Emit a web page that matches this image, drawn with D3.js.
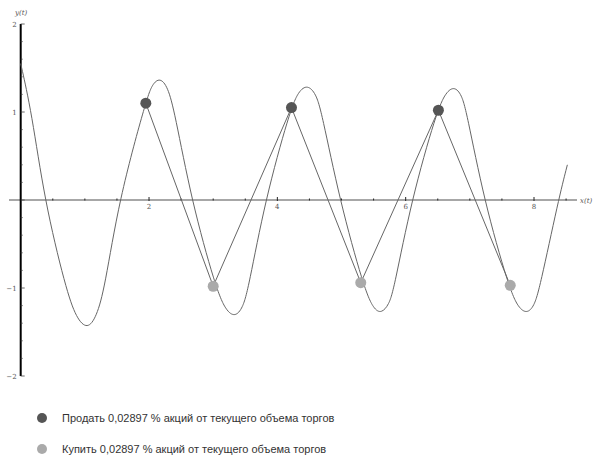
<!DOCTYPE html>
<html>
<head>
<meta charset="utf-8">
<script src="https://cdn.jsdelivr.net/npm/d3@7"></script>
<style>
  body { margin: 0; background: #fff; }
  svg { display: block; }
</style>
</head>
<body>
<svg width="593" height="456"></svg>
<script>
// curve points (t, y)
const curveX = [0, 0.17, 0.37, 0.70, 0.87, 1.04, 1.18, 1.31, 1.53, 1.95, 2.05, 2.17, 2.29, 2.40, 2.66, 3.04, 3.2, 3.34, 3.46, 3.55, 3.81, 4.19, 4.33, 4.47, 4.6, 4.69, 4.97, 5.35, 5.5, 5.62, 5.74, 5.82, 6.09, 6.48, 6.63, 6.76, 6.87, 6.95, 7.22, 7.61, 7.76, 7.89, 8.0, 8.09, 8.38, 8.52];
const curveY = [1.55, 1.0, 0, -1.0, -1.35, -1.47, -1.33, -1.0, 0, 1.12, 1.32, 1.39, 1.29, 1.0, 0, -1.0, -1.26, -1.33, -1.23, -1.0, 0, 1.0, 1.24, 1.31, 1.21, 1.0, 0, -1.0, -1.24, -1.29, -1.19, -1.0, 0, 1.0, 1.23, 1.29, 1.2, 1.0, 0, -1.0, -1.23, -1.29, -1.21, -1.0, 0, 0.4];

// trade points
const sellX = [1.95, 4.22, 6.51];
const sellY = [1.1, 1.05, 1.02];
const buyX = [3.0, 5.3, 7.63];
const buyY = [-0.98, -0.94, -0.97];

const xMajor = [2, 4, 6, 8];
const yMajor = [2, 1, -1, -2];
const legendLabels = [
  'Продать 0,02897 % акций  от текущего объема торгов',
  'Купить 0,02897 % акций от текущего объема торгов'
];

const svg = d3.select('svg');
const x = d3.scaleLinear().domain([0, 8]).range([20.7, 534]);
const y = d3.scaleLinear().domain([-2, 2]).range([376, 24]);

const chart = svg.append('g');

// x axis
chart.append('line')
  .attr('x1', 9).attr('x2', 577)
  .attr('y1', y(0)).attr('y2', y(0))
  .attr('stroke', '#8a8a8a').attr('stroke-width', 1.3);

const xMinor = d3.range(0.5, 8.6, 0.5);
chart.selectAll('.xt')
  .data(xMinor)
  .enter()
  .append('line')
  .attr('x1', d => x(d)).attr('x2', d => x(d))
  .attr('y1', d => y(0) - (d % 2 === 0 ? 3 : 1.5))
  .attr('y2', d => y(0) + (d % 2 === 0 ? 1 : 0.5))
  .attr('stroke', '#222').attr('stroke-width', 1);

chart.selectAll('.xl')
  .data(xMajor)
  .enter()
  .append('text')
  .attr('x', d => x(d)).attr('y', y(0) + 9)
  .attr('text-anchor', 'middle')
  .attr('font-family', 'DejaVu Serif, serif')
  .attr('font-size', 7).attr('fill', '#555')
  .text(d => d);

chart.append('text')
  .attr('x', 580).attr('y', y(0) + 3)
  .attr('font-family', 'DejaVu Serif, serif')
  .attr('font-style', 'italic')
  .attr('font-size', 7).attr('fill', '#555')
  .text('x(t)');

// y axis
chart.append('line')
  .attr('x1', x(0)).attr('x2', x(0))
  .attr('y1', y(2)).attr('y2', y(-2))
  .attr('stroke', '#000').attr('stroke-width', 2);

const yMinor = d3.range(-2, 2.01, 0.2).map(d => Math.round(d * 10) / 10);
chart.selectAll('.yt')
  .data(yMinor)
  .enter()
  .append('line')
  .attr('x1', x(0)).attr('x2', d => x(0) + (Math.round(d) === d ? 4 : 2))
  .attr('y1', d => y(d)).attr('y2', d => y(d))
  .attr('stroke', '#444').attr('stroke-width', 0.8);

chart.selectAll('.yl')
  .data(yMajor)
  .enter()
  .append('text')
  .attr('x', x(0) - 4).attr('y', d => y(d) + 2.5)
  .attr('text-anchor', 'end')
  .attr('font-family', 'DejaVu Serif, serif')
  .attr('font-size', 7).attr('fill', '#555')
  .text(d => d < 0 ? '\u2212' + (-d) : d);

chart.append('text')
  .attr('x', 15).attr('y', 15)
  .attr('font-family', 'DejaVu Serif, serif')
  .attr('font-style', 'italic')
  .attr('font-size', 7).attr('fill', '#555')
  .text('y(t)');

// the curve
const curveData = curveX.map((d, i) => [d, curveY[i]]);
const line = d3.line()
  .x(d => x(d[0])).y(d => y(d[1]))
  .curve(d3.curveBasis);

chart.append('path')
  .datum(curveData)
  .attr('d', line)
  .attr('fill', 'none')
  .attr('stroke', '#666').attr('stroke-width', 1);

// zigzag through the trade points
const trades = [];
sellX.forEach((d, i) => {
  trades.push({ t: d, v: sellY[i], kind: 'sell' });
  trades.push({ t: buyX[i], v: buyY[i], kind: 'buy' });
});
trades.sort((a, b) => a.t - b.t);

chart.append('path')
  .datum(trades)
  .attr('d', d3.line().x(d => x(d.t)).y(d => y(d.v)))
  .attr('fill', 'none')
  .attr('stroke', '#666').attr('stroke-width', 1);

const color = { sell: '#555555', buy: '#aaaaaa' };
chart.selectAll('.pt')
  .data(trades)
  .enter()
  .append('circle')
  .attr('cx', d => x(d.t)).attr('cy', d => y(d.v))
  .attr('r', 5.5)
  .attr('fill', d => color[d.kind]);

// legend
const legend = svg.append('g');
const legendColors = [color.sell, color.buy];
legendLabels.forEach((lab, i) => {
  const ly = 418 + i * 31;
  legend.append('circle')
    .attr('cx', 42).attr('cy', ly).attr('r', 5)
    .attr('fill', legendColors[i]);
  legend.append('text')
    .attr('x', 62).attr('y', ly + 4)
    .attr('font-family', 'Liberation Sans, Arial, sans-serif')
    .attr('font-size', 11).attr('fill', '#333')
    .text(lab);
});
</script>
</body>
</html>
